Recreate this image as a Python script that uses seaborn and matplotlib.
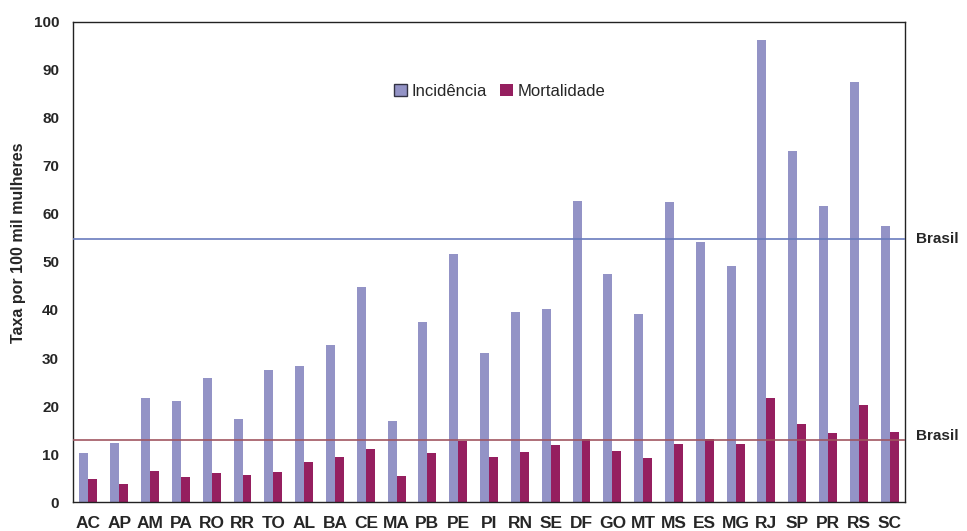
import numpy as np
import pandas as pd
import matplotlib
import seaborn as sns

matplotlib.use("Agg")
from matplotlib import pyplot as plt

estados = ["AC", "AP", "AM", "PA", "RO", "RR", "TO", "AL", "BA", "CE", "MA", "PB", "PE", "PI",
           "RN", "SE", "DF", "GO", "MT", "MS", "ES", "MG", "RJ", "SP", "PR", "RS", "SC"]
incidencia = [10.2, 12.3, 21.6, 21.0, 25.8, 17.3, 27.4, 28.3, 32.8, 44.7, 16.8, 37.4, 51.6, 31.0,
              39.5, 40.3, 62.8, 47.4, 39.1, 62.6, 54.1, 49.1, 96.3, 73.2, 61.7, 87.5, 57.6]
mortalidade = [4.8, 3.7, 6.4, 5.2, 6.0, 5.6, 6.2, 8.3, 9.4, 11.0, 5.4, 10.2, 12.7, 9.4,
               10.4, 11.9, 13.1, 10.6, 9.1, 12.1, 13.1, 12.1, 21.6, 16.2, 14.3, 20.2, 14.6]
brasil_incidencia = 54.7
brasil_mortalidade = 12.9

df = pd.DataFrame({"estado": estados, "Incidência": incidencia, "Mortalidade": mortalidade})
long_df = df.melt(id_vars="estado", var_name="serie", value_name="taxa")

sns.set_theme(style="white")
plt.rcParams["font.family"] = ["Liberation Sans", "DejaVu Sans"]

fig = plt.figure(figsize=(9.67, 5.31), dpi=100)
ax = fig.add_axes([0.0755, 0.0546, 0.8605, 0.904])

sns.barplot(
    data=long_df,
    x="estado",
    y="taxa",
    hue="serie",
    palette={"Incidência": "#9393C6", "Mortalidade": "#951F5F"},
    width=0.58,
    gap=0,
    saturation=1,
    linewidth=0,
    ax=ax,
)

ax.axhline(brasil_incidencia, color="#6a7bbd", lw=1.2, zorder=3)
ax.axhline(brasil_mortalidade, color="#a05560", lw=1.4, alpha=0.85, zorder=3)

ax.set_xlim(-0.5, len(estados) - 0.5)
ax.set_ylim(0, 100)
ax.set_yticks(range(0, 101, 10))
ax.set_xlabel("")
ax.set_ylabel("Taxa por 100 mil mulheres", fontsize=11.5, fontweight="bold")
ax.yaxis.set_label_coords(-0.056, 0.54)
ax.tick_params(axis="both", length=0)
ax.tick_params(axis="y", labelsize=11, pad=10)
ax.tick_params(axis="x", labelsize=12.5, pad=10)
for lbl in ax.get_xticklabels() + ax.get_yticklabels():
    lbl.set_fontweight("bold")

for side in ["left", "bottom", "right", "top"]:
    ax.spines[side].set_color("#222222")
    ax.spines[side].set_linewidth(1.0)

ax.text(1.013, brasil_incidencia, "Brasil", transform=ax.get_yaxis_transform(),
        fontsize=11, fontweight="bold", va="center", ha="left")
ax.text(1.013, brasil_mortalidade + 0.8, "Brasil", transform=ax.get_yaxis_transform(),
        fontsize=11, fontweight="bold", va="center", ha="left")

leg = ax.legend(loc="center", bbox_to_anchor=(0.513, 0.856), frameon=False, ncol=2,
                fontsize=12, handlelength=0.75, handleheight=0.75, handletextpad=0.3,
                columnspacing=0.8, title=None)
leg.get_patches()[0].set_edgecolor("#333344")
leg.get_patches()[0].set_linewidth(1.0)

fig.savefig("out.png", dpi=100)
